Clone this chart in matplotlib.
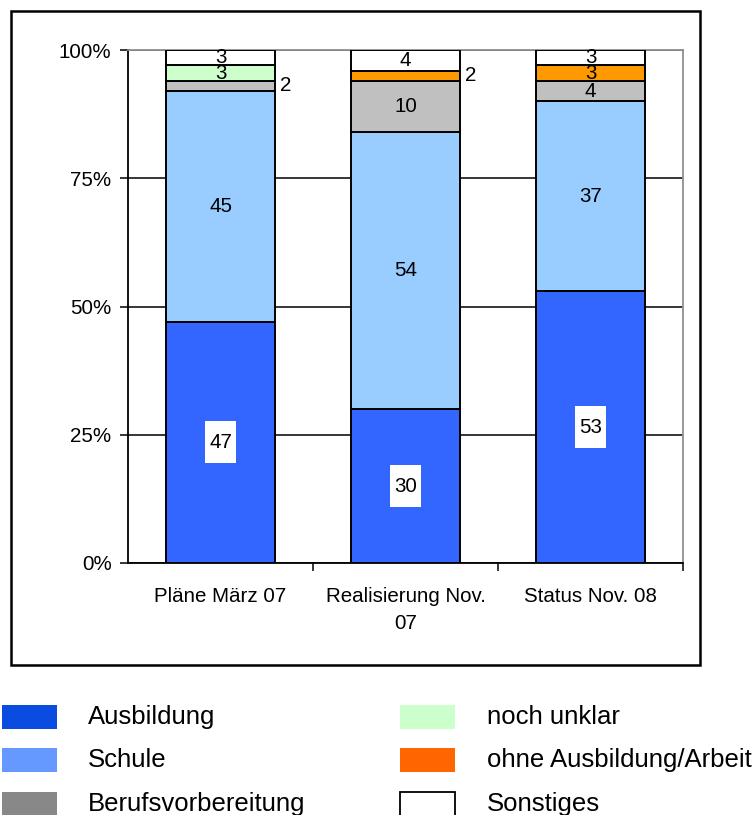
import numpy as np
import matplotlib
matplotlib.use('Agg')
import matplotlib.pyplot as plt
from matplotlib.patches import Rectangle

plt.rcParams['font.family'] = ['Liberation Sans', 'DejaVu Sans']

# data: share of each outcome (percent) per survey
groups = ['Pläne März 07', 'Realisierung Nov.\n07', 'Status Nov. 08']
series = ['Ausbildung', 'Schule', 'Berufsvorbereitung',
          'noch unklar', 'ohne Ausbildung/Arbeit', 'Sonstiges']
ausbildung = [47, 30, 53]
schule = [45, 54, 37]
berufsvorbereitung = [2, 10, 4]
noch_unklar = [3, 0, 0]
ohne_arbeit = [0, 2, 3]
sonstiges = [3, 4, 3]
values = [ausbildung, schule, berufsvorbereitung, noch_unklar, ohne_arbeit, sonstiges]

bar_colors = ['#3366ff', '#99ccff', '#c0c0c0', '#ccffcc', '#ff9900', '#ffffff']
legend_colors = ['#0a4be0', '#6699ff', '#888888', '#ccffcc', '#ff6600', '#ffffff']

W, H = 755, 815
fig = plt.figure(figsize=(W / 100, H / 100), dpi=100)

# outer chart frame
fig.patches.append(Rectangle((11 / W, 1 - 665 / H), 689 / W, 654 / H,
                             transform=fig.transFigure, fill=False,
                             edgecolor='black', lw=1.8, zorder=0))

ax = fig.add_axes([128 / W, 1 - 563 / H, 555 / W, 513 / H])
x = np.arange(len(groups))
bw = 0.585
bottom = np.zeros(len(groups))
for i, (name, vals) in enumerate(zip(series, values)):
    vals = np.array(vals, dtype=float)
    ax.bar(x, vals, bw, bottom=bottom, color=bar_colors[i],
           edgecolor='black', linewidth=1.4, zorder=3)
    for j, v in enumerate(vals):
        if v == 0:
            continue
        yc = bottom[j] + v / 2
        if v <= 2:
            # small segments get their label beside the bar
            ax.text(x[j] + bw / 2 + 0.03, yc, f'{int(v)}', ha='left',
                    va='center', fontsize=14.8, zorder=5)
            continue
        if i == 0:
            # white tag behind the Ausbildung values
            ax.add_patch(Rectangle((x[j] - 0.084, yc - 4.1), 0.168, 8.2,
                                   facecolor='white', edgecolor='none',
                                   zorder=4))
        ax.text(x[j], yc, f'{int(v)}', ha='center', va='center',
                fontsize=14.8, zorder=5)
    bottom += vals

ax.set_xlim(-0.5, len(groups) - 0.5)
ax.set_ylim(0, 100)
ax.set_yticks([0, 25, 50, 75, 100])
ax.set_yticklabels(['0%', '25%', '50%', '75%', '100%'])
ax.yaxis.grid(True, color='black', linewidth=1.1, zorder=1)
ax.set_axisbelow(True)

ax.set_xticks(x)
ax.set_xticklabels(groups, linespacing=1.5)
ax.tick_params(axis='x', length=0, pad=17.5, labelsize=14.8)
ax.set_xticks(np.arange(len(groups)) + 0.5, minor=True)
ax.tick_params(axis='x', which='minor', length=6, width=1.1, direction='out')
ax.tick_params(axis='y', length=6, width=1.1, direction='out', pad=5.8,
               labelsize=14.8)

for s in ['left', 'bottom']:
    ax.spines[s].set_color('black')
    ax.spines[s].set_linewidth(1.3)
for s in ['top', 'right']:
    ax.spines[s].set_color('#909090')
    ax.spines[s].set_linewidth(1.3)

# legend below the chart frame, two columns of three
col_x = [(2, 88), (400, 487)]
row_y = [717, 760, 804]
for i, name in enumerate(series):
    px, tx = col_x[i // 3]
    cy = row_y[i % 3]
    ec = 'black' if legend_colors[i] == '#ffffff' else 'none'
    fig.patches.append(Rectangle((px / W, 1 - (cy + 12) / H), 55 / W, 24 / H,
                                 transform=fig.transFigure,
                                 facecolor=legend_colors[i], edgecolor=ec,
                                 lw=1.3))
    fig.text(tx / W, 1 - cy / H, name, ha='left', va='center', fontsize=18.5)

fig.savefig('out.png', dpi=100)
